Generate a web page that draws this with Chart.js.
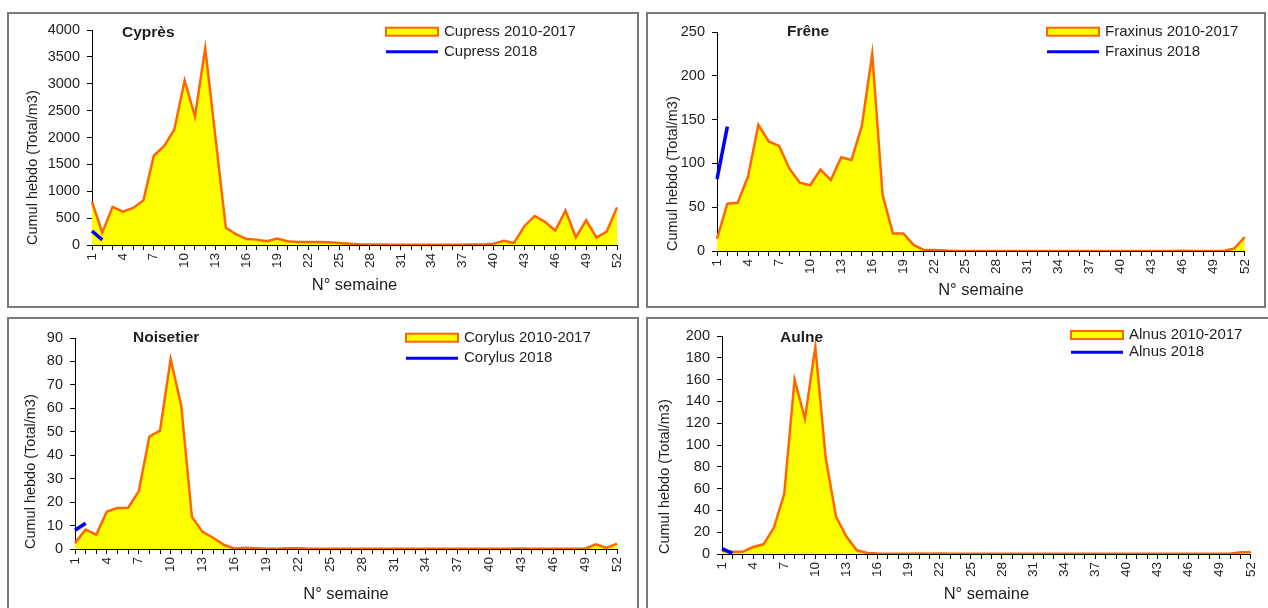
<!DOCTYPE html>
<html>
<head>
<meta charset="utf-8">
<script src="https://cdn.jsdelivr.net/npm/chart.js@4.4.1/dist/chart.umd.min.js"></script>
<style>
  html, body { margin:0; padding:0; background:#fff; width:1268px; height:608px; overflow:hidden; }
  .panel { position:absolute; box-sizing:border-box; border:2px solid #7a7a7a; background:#fff; }
  .panel canvas { display:block; }
</style>
</head>
<body>
<div class="panel" style="left:7px;top:12px;width:632px;height:296px"><canvas id="c1" width="628" height="292"></canvas></div>
<div class="panel" style="left:646px;top:12px;width:620px;height:296px"><canvas id="c2" width="616" height="292"></canvas></div>
<div class="panel" style="left:7px;top:317px;width:632px;height:293px"><canvas id="c3" width="628" height="289"></canvas></div>
<div class="panel" style="left:646px;top:317px;width:626px;height:293px"><canvas id="c4" width="622" height="289"></canvas></div>
<script>
// ---------- DATA ----------
const weeks = ['1','2','3','4','5','6','7','8','9','10','11','12','13','14','15','16','17','18','19','20',
  '21','22','23','24','25','26','27','28','29','30','31','32','33','34','35','36','37','38','39','40',
  '41','42','43','44','45','46','47','48','49','50','51','52'];

const cupressAvg = [800, 230, 710, 620, 690, 830, 1660, 1840, 2150, 3060, 2390, 3660, 1990, 320, 200, 110, 100, 70, 120, 70,
  55, 55, 55, 50, 35, 25, 15, 10, 8, 6, 5, 5, 5, 5, 5, 5, 5, 8, 10, 25,
  80, 40, 350, 540, 430, 270, 640, 140, 460, 140, 250, 700];
const cupress2018 = [260, 95];

const fraxinusAvg = [14, 54, 55, 85, 144, 125, 120, 94, 78, 75, 93, 81, 107, 104, 143, 225, 64, 20, 20, 7,
  1, 1, 0.5, 0, 0, 0, 0, 0, 0, 0, 0, 0, 0, 0, 0, 0, 0, 0, 0, 0,
  0, 0, 0, 0, 0, 0.3, 0, 0, 0, 0, 3, 16];
const fraxinus2018 = [82, 142];

const corylusAvg = [2.5, 8.3, 6.1, 16, 17.5, 17.6, 24.6, 48, 50.5, 81, 61, 13.7, 7.3, 4.8, 1.8, 0.2, 0.5, 0.3, 0.1, 0.1,
  0.3, 0.3, 0.1, 0.1, 0.1, 0.1, 0.1, 0.1, 0.1, 0.1, 0.1, 0.1, 0.1, 0.1, 0.1, 0.1, 0.1, 0.1, 0.1, 0.1,
  0.1, 0.1, 0.2, 0.1, 0.1, 0.1, 0.1, 0.1, 0.1, 2, 0.5, 2.3];
const corylus2018 = [8, 11];

const alnusAvg = [3, 2, 2, 6.4, 8.9, 24, 55, 160, 124, 190, 88, 34, 16, 3.4, 1, 0.5, 0.3, 0.2, 0.2, 0.5,
  0.2, 0.4, 0.3, 0.2, 0.2, 0.2, 0.2, 0.2, 0.2, 0.2, 0.2, 0.2, 0.2, 0.2, 0.2, 0.2, 0.2, 0.2, 0.2, 0.2,
  0.2, 0.2, 0.2, 0.2, 0.2, 0.2, 0.2, 0.2, 0.2, 0.2, 1.5, 1.5];
const alnus2018 = [5, 0.5];

// ---------- STYLE ----------
const FONT = '"Liberation Sans", Arial, sans-serif';
const TXT = '#1f1f1f';
const ORANGE = '#FF6600';
const YELLOW = '#FFFF00';
const BLUE = '#0000FF';

const overlay = {
  id: 'overlay',
  afterDraw(chart, args, o) {
    const ctx = chart.ctx;
    ctx.save();
    ctx.fillStyle = TXT;
    ctx.textBaseline = 'middle';
    ctx.textAlign = 'left';
    ctx.font = 'bold 15.5px ' + FONT;
    ctx.fillText(o.title, o.titleX, o.titleY);
    ctx.font = '15px ' + FONT;
    chart.data.datasets.forEach((ds, i) => {
      const y = o.legY[i];
      if (ds.fill) {
        ctx.fillStyle = YELLOW;
        ctx.fillRect(o.legX, y - 4, 52, 8);
        ctx.strokeStyle = ORANGE;
        ctx.lineWidth = 2;
        ctx.strokeRect(o.legX, y - 4, 52, 8);
      } else {
        ctx.strokeStyle = BLUE;
        ctx.lineWidth = 3;
        ctx.beginPath();
        ctx.moveTo(o.legX, y);
        ctx.lineTo(o.legX + 52, y);
        ctx.stroke();
      }
      ctx.fillStyle = TXT;
      ctx.fillText(ds.label, o.legX + 58, y);
    });
    ctx.restore();
  }
};

function makeChart(id, p) {
  new Chart(document.getElementById(id), {
    type: 'line',
    data: {
      labels: weeks,
      datasets: [
        { label: p.name + ' 2010-2017', data: p.avg, fill: 'origin', backgroundColor: YELLOW,
          borderColor: ORANGE, borderWidth: 2.5, pointRadius: 0, tension: 0, order: 1 },
        { label: p.name + ' 2018', data: p.cur, fill: false, borderColor: BLUE,
          borderWidth: 3.5, pointRadius: 0, tension: 0, order: 0 }
      ]
    },
    options: {
      responsive: false,
      animation: false,
      events: [],
      layout: { padding: { left: 0, top: p.top, right: p.right, bottom: 0 } },
      plugins: {
        legend: { display: false },
        tooltip: { enabled: false },
        overlay: { title: p.title, titleX: p.titleX, titleY: p.titleY, legX: p.legX, legY: p.legY }
      },
      scales: {
        x: {
          offset: false,
          grid: { drawOnChartArea: false, drawTicks: true, tickLength: 5, color: '#000' },
          border: { color: '#000', width: 1 },
          ticks: {
            autoSkip: false, minRotation: 90, maxRotation: 90, padding: 3,
            color: TXT, font: { family: FONT, size: 13.5 },
            callback: (v, i) => (i % 3 === 0 ? weeks[i] : '')
          },
          title: { display: true, text: 'N° semaine', color: TXT, font: { family: FONT, size: 16.5 },
            padding: { top: 0, bottom: p.xTitlePad } },
          afterFit: s => { s.height = p.xH; }
        },
        y: {
          min: 0, max: p.max,
          grid: { drawOnChartArea: false, drawTicks: true, tickLength: 5, color: '#000' },
          border: { color: '#000', width: 1 },
          ticks: { stepSize: p.step, padding: 7, color: TXT, font: { family: FONT, size: 14.5 },
            callback: v => String(v) },
          title: { display: true, text: 'Cumul hebdo (Total/m3)', align: 'start', color: TXT,
            font: { family: FONT, size: 14.5 }, padding: { top: p.yTitlePad, bottom: 0 } },
          afterFit: s => { s.width = p.yW; }
        }
      }
    },
    plugins: [overlay]
  });
}

makeChart('c1', { name: 'Cupress', avg: cupressAvg, cur: cupress2018, max: 4000, step: 500,
  top: 16, right: 20, yW: 83, xH: 61, xTitlePad: 11, yTitlePad: 15,
  title: 'Cyprès', titleX: 113, titleY: 19, legX: 377, legY: [17.7, 37.7] });
makeChart('c2', { name: 'Fraxinus', avg: fraxinusAvg, cur: fraxinus2018, max: 250, step: 50,
  top: 18, right: 7, yW: 69, xH: 55, xTitlePad: 6, yTitlePad: 16,
  title: 'Frêne', titleX: 139, titleY: 18, legX: 399, legY: [17.7, 37.7] });
makeChart('c3', { name: 'Corylus', avg: corylusAvg, cur: corylus2018, max: 90, step: 10,
  top: 19, right: 20, yW: 66, xH: 59, xTitlePad: 4, yTitlePad: 13,
  title: 'Noisetier', titleX: 124, titleY: 19, legX: 397, legY: [18.7, 39.3] });
makeChart('c4', { name: 'Alnus', avg: alnusAvg, cur: alnus2018, max: 200, step: 20,
  top: 17, right: 13, yW: 74, xH: 54, xTitlePad: 4, yTitlePad: 8,
  title: 'Aulne', titleX: 132, titleY: 19, legX: 423, legY: [16, 33.3] });
</script>
</body>
</html>
